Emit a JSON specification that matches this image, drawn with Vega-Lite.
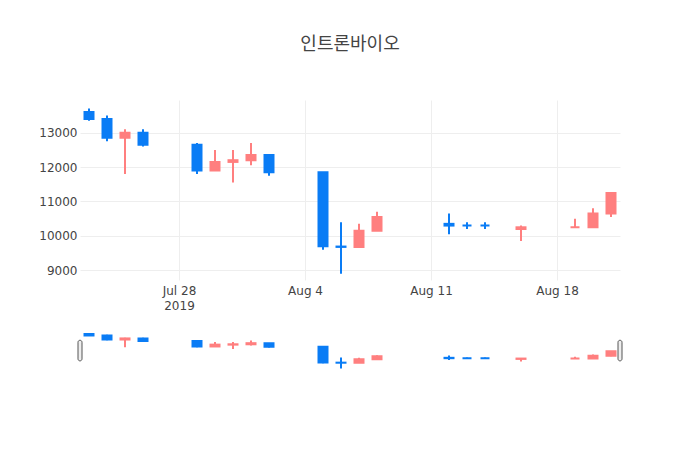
{
  "$schema": "https://vega.github.io/schema/vega-lite/v6.json",
  "background": "white",
  "padding": {"left": 38, "top": 36, "right": 5, "bottom": 5},
  "title": {
    "text": "인트론바이오",
    "font": "Noto Sans CJK KR",
    "fontSize": 18,
    "fontWeight": "normal",
    "color": "#444444",
    "anchor": "middle",
    "frame": "group",
    "baseline": "bottom",
    "offset": 28
  },
  "config": {
    "font": "DejaVu Sans",
    "view": {"stroke": null},
    "axis": {
      "labelFont": "DejaVu Sans",
      "labelFontSize": 12,
      "labelColor": "#444444",
      "gridColor": "#eeeeee",
      "gridWidth": 1,
      "domain": false,
      "ticks": false
    }
  },
  "bounds": "flush",
  "spacing": 50,
  "resolve": {"scale": {"y": "independent"}},
  "datasets": {
    "prices": [
      {"date": "2019-07-23", "open": 13600, "high": 13700, "low": 13350, "close": 13400, "dir": "down"},
      {"date": "2019-07-24", "open": 13400, "high": 13500, "low": 12750, "close": 12850, "dir": "down"},
      {"date": "2019-07-25", "open": 12850, "high": 13100, "low": 11800, "close": 13000, "dir": "up"},
      {"date": "2019-07-26", "open": 13000, "high": 13100, "low": 12600, "close": 12650, "dir": "down"},
      {"date": "2019-07-29", "open": 12650, "high": 12700, "low": 11800, "close": 11900, "dir": "down"},
      {"date": "2019-07-30", "open": 11900, "high": 12500, "low": 11900, "close": 12150, "dir": "up"},
      {"date": "2019-07-31", "open": 12150, "high": 12500, "low": 11550, "close": 12200, "dir": "up"},
      {"date": "2019-08-01", "open": 12200, "high": 12700, "low": 12050, "close": 12350, "dir": "up"},
      {"date": "2019-08-02", "open": 12350, "high": 12350, "low": 11750, "close": 11850, "dir": "down"},
      {"date": "2019-08-05", "open": 11850, "high": 11850, "low": 9600, "close": 9700, "dir": "down"},
      {"date": "2019-08-06", "open": 9690, "high": 10400, "low": 8900, "close": 9680, "dir": "down"},
      {"date": "2019-08-07", "open": 9680, "high": 10350, "low": 9680, "close": 10150, "dir": "up"},
      {"date": "2019-08-08", "open": 10150, "high": 10700, "low": 10150, "close": 10550, "dir": "up"},
      {"date": "2019-08-12", "open": 10350, "high": 10650, "low": 10050, "close": 10300, "dir": "down"},
      {"date": "2019-08-13", "open": 10300, "high": 10400, "low": 10200, "close": 10300, "dir": "down"},
      {"date": "2019-08-14", "open": 10300, "high": 10400, "low": 10200, "close": 10300, "dir": "down"},
      {"date": "2019-08-16", "open": 10200, "high": 10300, "low": 9850, "close": 10250, "dir": "up"},
      {"date": "2019-08-19", "open": 10250, "high": 10500, "low": 10250, "close": 10250, "dir": "up"},
      {"date": "2019-08-20", "open": 10250, "high": 10800, "low": 10250, "close": 10650, "dir": "up"},
      {"date": "2019-08-21", "open": 10650, "high": 11250, "low": 10550, "close": 11250, "dir": "up"}
    ]
  },
  "vconcat": [
    {
      "width": 540,
      "height": 180,
      "data": {"name": "prices"},
      "encoding": {
        "x": {
          "field": "date",
          "type": "temporal",
          "title": null,
          "scale": {
            "type": "utc",
            "padding": 0,
            "domain": [
              {"year": 2019, "month": 7, "date": 22, "hours": 12, "utc": true},
              {"year": 2019, "month": 8, "date": 21, "hours": 12, "utc": true}
            ]
          },
          "axis": {
            "values": [
              {"year": 2019, "month": 7, "date": 28, "utc": true},
              {"year": 2019, "month": 8, "date": 4, "utc": true},
              {"year": 2019, "month": 8, "date": 11, "utc": true},
              {"year": 2019, "month": 8, "date": 18, "utc": true}
            ],
            "labelExpr": "utcFormat(datum.value, '%m%d') == '0728' ? [utcFormat(datum.value, '%b %-d'), '2019'] : utcFormat(datum.value, '%b %-d')",
            "labelPadding": 5,
            "labelLineHeight": 15.5,
            "labelBaseline": "top",
            "grid": true
          }
        },
        "color": {
          "field": "dir",
          "type": "nominal",
          "scale": {"domain": ["up", "down"], "range": ["#FF7F7F", "#0A7CF5"]},
          "legend": null
        }
      },
      "layer": [
        {
          "mark": {"type": "rule", "strokeWidth": 2},
          "encoding": {
            "y": {
              "field": "low",
              "type": "quantitative",
              "title": null,
              "scale": {"domain": [8718, 13950], "nice": false, "zero": false},
              "axis": {
                "values": [9000, 10000, 11000, 12000, 13000],
                "format": "d",
                "labelPadding": 3,
                "grid": true,
                "title": null
              }
            },
            "y2": {"field": "high"}
          }
        },
        {
          "mark": {"type": "bar", "width": 9, "strokeWidth": 2},
          "encoding": {
            "y": {"field": "open", "type": "quantitative", "title": null},
            "y2": {"field": "close"},
            "stroke": {
              "field": "dir",
              "type": "nominal",
              "scale": {"domain": ["up", "down"], "range": ["#FF7F7F", "#0A7CF5"]},
              "legend": null
            }
          }
        }
      ]
    },
    {
      "width": 540,
      "height": 41,
      "layer": [
        {
          "data": {"name": "prices"},
          "mark": {"type": "rule", "strokeWidth": 2},
          "encoding": {
            "x": {
              "field": "date",
              "type": "temporal",
              "scale": {
                "type": "utc",
                "padding": 0,
                "domain": [
                  {"year": 2019, "month": 7, "date": 22, "hours": 12, "utc": true},
                  {"year": 2019, "month": 8, "date": 21, "hours": 12, "utc": true}
                ]
              },
              "axis": null
            },
            "y": {
              "field": "low",
              "type": "quantitative",
              "scale": {"domain": [8550, 14150], "nice": false, "zero": false},
              "axis": null
            },
            "y2": {"field": "high"},
            "color": {
              "field": "dir",
              "type": "nominal",
              "scale": {"domain": ["up", "down"], "range": ["#FF7F7F", "#0A7CF5"]},
              "legend": null
            }
          }
        },
        {
          "data": {"name": "prices"},
          "mark": {"type": "bar", "width": 9, "strokeWidth": 2},
          "encoding": {
            "x": {"field": "date", "type": "temporal"},
            "y": {"field": "open", "type": "quantitative"},
            "y2": {"field": "close"},
            "color": {
              "field": "dir",
              "type": "nominal",
              "scale": {"domain": ["up", "down"], "range": ["#FF7F7F", "#0A7CF5"]},
              "legend": null
            },
            "stroke": {
              "field": "dir",
              "type": "nominal",
              "scale": {"domain": ["up", "down"], "range": ["#FF7F7F", "#0A7CF5"]},
              "legend": null
            }
          }
        },
        {
          "data": {"values": [{"end": "start"}]},
          "mark": {"type": "bar", "width": 4, "cornerRadius": 2, "fill": "#eeeeee", "stroke": "#555555", "strokeWidth": 1},
          "encoding": {
            "x": {
              "datum": {"year": 2019, "month": 7, "date": 22, "hours": 12, "utc": true},
              "type": "temporal"
            },
            "y": {"datum": 12750, "type": "quantitative"},
            "y2": {"datum": 9930}
          }
        },
        {
          "data": {"values": [{"end": "stop"}]},
          "mark": {"type": "bar", "width": 4, "cornerRadius": 2, "fill": "#eeeeee", "stroke": "#555555", "strokeWidth": 1},
          "encoding": {
            "x": {
              "datum": {"year": 2019, "month": 8, "date": 21, "hours": 12, "utc": true},
              "type": "temporal"
            },
            "y": {"datum": 12750, "type": "quantitative"},
            "y2": {"datum": 9930}
          }
        }
      ]
    }
  ]
}
